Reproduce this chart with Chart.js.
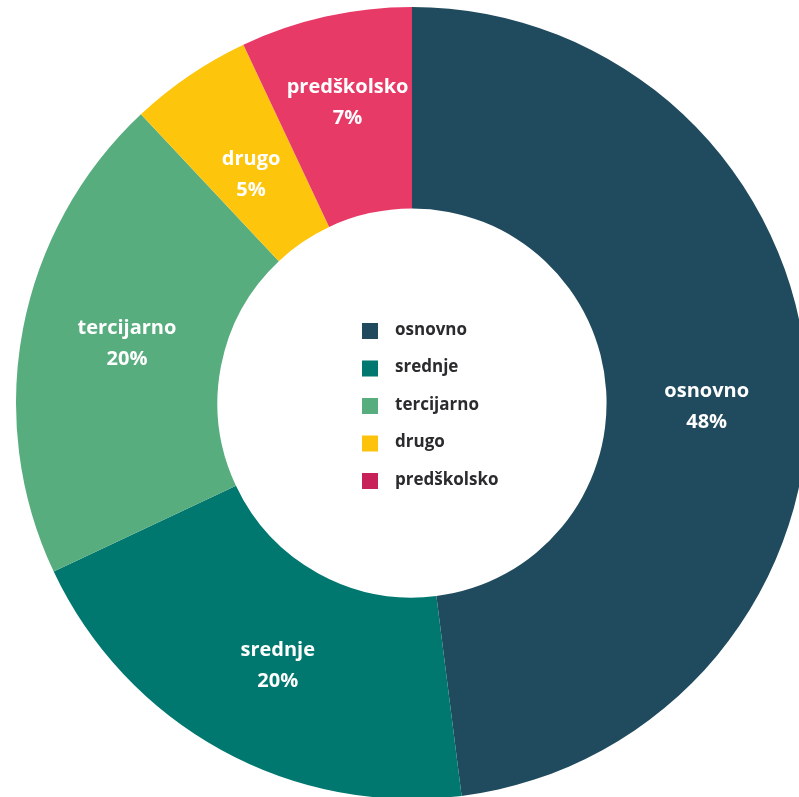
<!DOCTYPE html>
<html>
<head>
<meta charset="utf-8">
<title>Doughnut</title>
<script src="https://cdn.jsdelivr.net/npm/chart.js@4.4.0/dist/chart.umd.min.js"></script>
<style>
    html, body { margin: 0; padding: 0; background: #ffffff; overflow: hidden; }
    #wrap { position: relative; width: 799px; height: 797px; overflow: hidden; }
    #chart { position: absolute; left: 0; top: 0; }
</style>
</head>
<body>
<div id="wrap"><canvas id="chart" width="824" height="806"></canvas></div>
<script>
// --- Data ---
const categories = ['osnovno', 'srednje', 'tercijarno', 'drugo', 'predškolsko'];
const shares = [48, 20, 20, 5, 7];
const sliceColors = ['#204b5e', '#00786f', '#58ad7f', '#fdc50c', '#e83a67'];
const legendColors = ['#204b5e', '#00786f', '#58ad7f', '#fdc20c', '#c8215a'];

const FONT = '"Open Sans", Lato, sans-serif';

// White two-line labels inside each slice (name + percentage)
const sliceLabels = {
    id: 'sliceLabels',
    afterDatasetsDraw(chart, args, opts) {
        const ctx = chart.ctx;
        const meta = chart.getDatasetMeta(0);
        ctx.save();
        ctx.fillStyle = '#ffffff';
        ctx.textAlign = 'center';
        ctx.textBaseline = 'middle';
        ctx.font = 'bold ' + opts.size + 'px ' + FONT;
        meta.data.forEach((arc, i) => {
            const p = arc.tooltipPosition();
            const n = opts.nudge[i] || [0, 0];
            const x = p.x + n[0];
            const y = p.y + n[1];
            ctx.fillText(chart.data.labels[i], x, y - opts.gap / 2);
            ctx.fillText(chart.data.datasets[0].data[i] + '%', x, y + opts.gap / 2);
        });
        ctx.restore();
    }
};

// Legend drawn inside the hole
const holeLegend = {
    id: 'holeLegend',
    afterDraw(chart, args, opts) {
        const ctx = chart.ctx;
        const arc = chart.getDatasetMeta(0).data[0];
        const cx = arc.x, cy = arc.y;
        ctx.save();
        ctx.textAlign = 'left';
        ctx.textBaseline = 'middle';
        ctx.font = 'bold ' + opts.size + 'px ' + FONT;
        chart.data.labels.forEach((label, i) => {
            const rowY = cy + opts.top + i * opts.step;
            ctx.fillStyle = opts.colors[i];
            ctx.fillRect(cx + opts.left, rowY - opts.box / 2, opts.box, opts.box);
            ctx.fillStyle = '#2b2b2e';
            ctx.fillText(label, cx + opts.left + opts.textGap, rowY - 1);
        });
        ctx.restore();
    }
};

new Chart(document.getElementById('chart'), {
    type: 'doughnut',
    data: {
        labels: categories,
        datasets: [{
            data: shares,
            backgroundColor: sliceColors,
            borderWidth: 0,
            hoverOffset: 0,
            radius: 396,
            cutout: 198
        }]
    },
    options: {
        responsive: false,
        animation: false,
        layout: { padding: 0 },
        events: [],
        plugins: {
            legend: { display: false },
            tooltip: { enabled: false },
            sliceLabels: {
                size: 20,
                gap: 31,
                nudge: [[0, 22], [8, 4], [5, -4], [5, 16], [0, -12]]
            },
            holeLegend: {
                size: 17,
                box: 16,
                left: -50,
                textGap: 33,
                top: -72,
                step: 37.5,
                colors: legendColors
            }
        }
    },
    plugins: [sliceLabels, holeLegend]
});
</script>
</body>
</html>
